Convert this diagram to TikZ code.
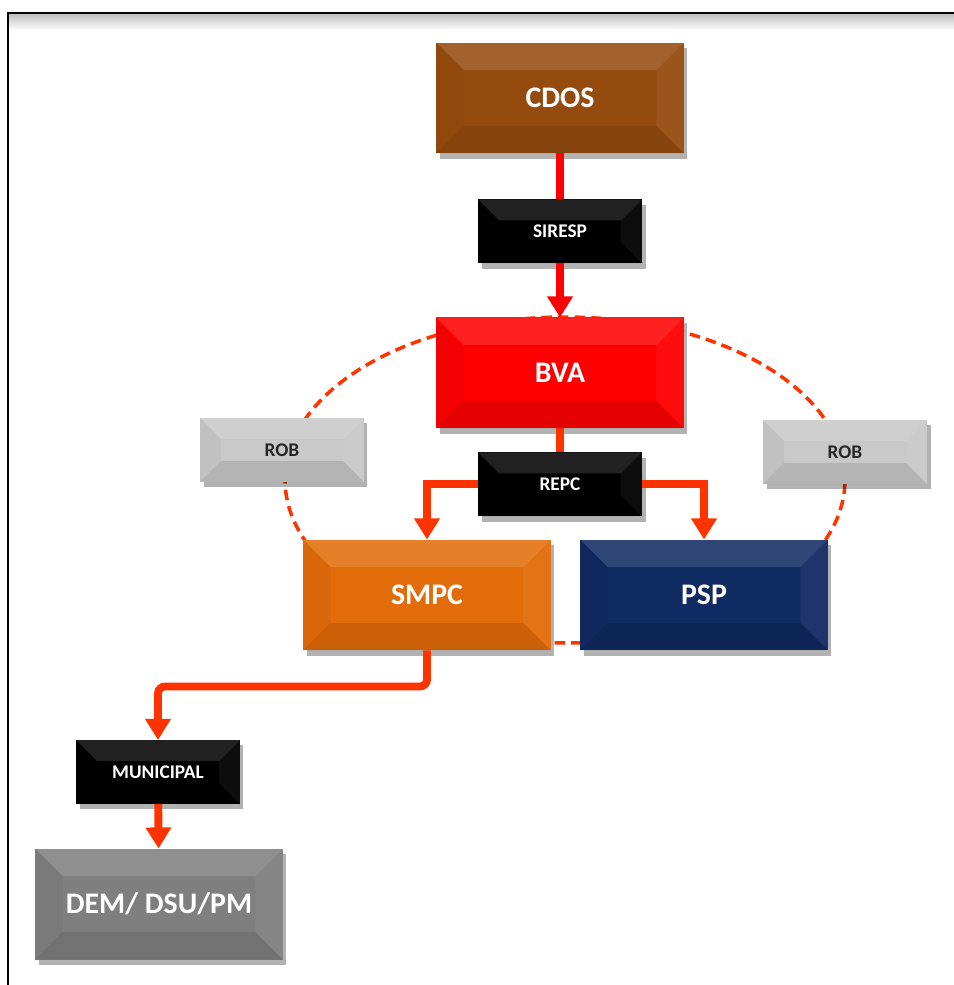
\documentclass[tikz,border=0pt]{standalone}
\usepackage{fontspec}
\setmainfont{Carlito}
\usetikzlibrary{arrows.meta, positioning, shadows}

\definecolor{cdosbrown}{HTML}{964B0E}
\definecolor{bvared}{HTML}{FF0000}
\definecolor{smpcorange}{HTML}{E36C0A}
\definecolor{pspblue}{HTML}{102A62}
\definecolor{robgray}{HTML}{C9C9C9}
\definecolor{demgray}{HTML}{7F7F7F}
\definecolor{linkred}{HTML}{FF3300}

\tikzset{
  bevel/.style={path picture={
    \coordinate (nw) at (path picture bounding box.north west);
    \coordinate (ne) at (path picture bounding box.north east);
    \coordinate (sw) at (path picture bounding box.south west);
    \coordinate (se) at (path picture bounding box.south east);
    \fill[white, opacity=0.13] (nw) -- (ne) -- ([shift={(-#1,-#1)}]ne) -- ([shift={(#1,-#1)}]nw) -- cycle;
    \fill[black, opacity=0.10] (sw) -- (se) -- ([shift={(-#1,#1)}]se) -- ([shift={(#1,#1)}]sw) -- cycle;
    \fill[black, opacity=0.04] (nw) -- ([shift={(#1,-#1)}]nw) -- ([shift={(#1,#1)}]sw) -- (sw) -- cycle;
    \fill[white, opacity=0.05] (ne) -- ([shift={(-#1,-#1)}]ne) -- ([shift={(-#1,#1)}]se) -- (se) -- cycle;
  }},
  box/.style={rectangle, inner sep=0pt, outer sep=0pt, text=white,
    drop shadow={shadow xshift=2pt, shadow yshift=-3pt, opacity=0.3, fill=black}},
  bigbox/.style={box, bevel=0.55cm, minimum width=4.96cm, minimum height=2.22cm,
    font=\fontsize{17}{20}\selectfont\bfseries},
  smallbox/.style={box, bevel=0.42cm, minimum width=3.28cm, minimum height=1.28cm,
    font=\fontsize{11}{13}\selectfont\bfseries},
  link/.style={draw=linkred, line width=4.5pt},
  tip/.style={-{Triangle[width=14pt,length=12pt]}},
  ring/.style={draw=linkred, line width=2pt, dash pattern=on 6pt off 3.5pt},
}

\begin{document}
\begin{tikzpicture}[x=0.02cm, y=-0.02cm]
\useasboundingbox (0,0) rectangle (954,985);
% frame
\shade[top color=black!25, bottom color=white] (9,14) rectangle (954,30);
\draw[line width=1.5pt] (954,13) -- (8,13) -- (8,985);

% dashed ring behind the boxes
\draw[ring] (565,480) ellipse [x radius=5.6cm, y radius=3.26cm];

\node[bigbox, fill=cdosbrown] (cdos) at (560,98) {CDOS};
\node[smallbox, fill=black] (siresp) [below = 0.92cm of cdos] {SIRESP};
\node[bigbox, fill=bvared] (bva) [below = 1.08cm of siresp] {BVA};
\node[smallbox, fill=black] (repc) [below = 0.48cm of bva] {REPC};

\node[smallbox, fill=robgray, text=black!85] (robl) at (282,450) {ROB};
\node[smallbox, fill=robgray, text=black!85] (robr) at (845,452) {ROB};

\node[bigbox, fill=smpcorange] (smpc) at (427,595) {SMPC};
\node[bigbox, fill=pspblue] (psp) at (704,595) {PSP};

\node[smallbox, fill=black] (municipal) at (158,772) {MUNICIPAL};
\node[bigbox, fill=demgray] (dem) at (159,904) {DEM/ DSU/PM};

% links
\draw[link, draw=bvared] (cdos) -- (siresp);
\draw[link, draw=bvared, tip] (siresp) -- (bva);
\draw[link] (bva) -- (repc);
\draw[link, tip] (repc.west) -| (smpc.north);
\draw[link, tip] (repc.east) -| (psp.north);
\draw[link, tip, rounded corners=4pt] (smpc.south) -- ++(0,36) -| (municipal.north);
\draw[link, tip] (municipal) -- (dem);
\end{tikzpicture}
\end{document}
